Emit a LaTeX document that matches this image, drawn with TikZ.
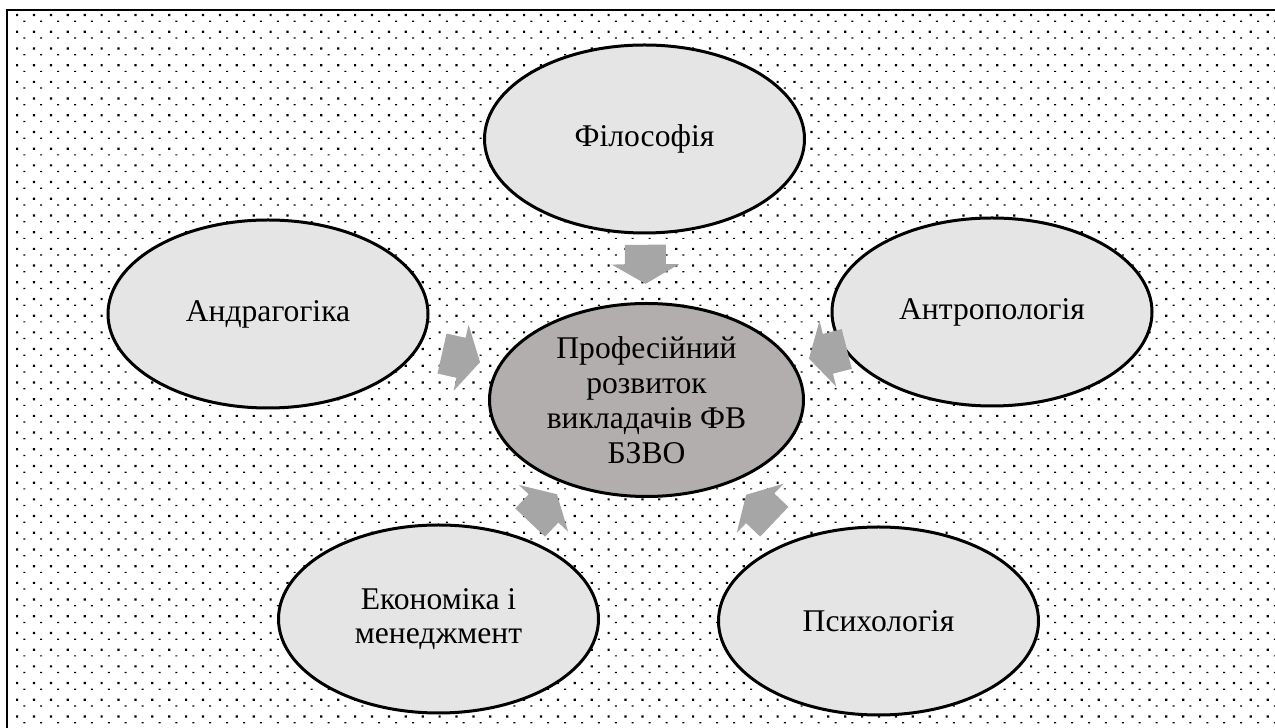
\documentclass[tikz,border=0pt]{standalone}
\usepackage{fontspec}
\setmainfont{Liberation Serif}
\usetikzlibrary{
    shapes.geometric,
    calc,
    positioning
}
\definecolor{ellgray}{RGB}{229,229,229}
\definecolor{coregray}{RGB}{178,174,174}
\definecolor{arrgray}{RGB}{166,166,166}
\tikzset{field/.style={ellipse, draw=black, line width=1.5pt, fill=ellgray, minimum width=160pt, minimum height=94pt, inner sep=0pt, align=center, font=\fontsize{15.8}{17.4}\selectfont}}
\tikzset{core/.style={field, fill=coregray, minimum width=157pt, minimum height=96.5pt}}
\tikzset{blockarr/.pic={\fill[arrgray] (-19.5,-20.5) -- (0,-20.5) -- (0,-34) -- (19.5,0) -- (0,34) -- (0,20.5) -- (-19.5,20.5) -- cycle;}}

\begin{document}
\begin{tikzpicture}[x=0.5pt, y=0.5pt]
                        \useasboundingbox (0, 0) rectangle (1275, 728);

                        \fill[black] \foreach \i in {0,...,74} {\foreach \j in {0,...,42} {
                            (16+16.9*\i, 714-16.7*\j) rectangle ++(2.2, -2.2)
                            (23.3+16.9*\i, 707.3-16.7*\j) rectangle ++(2, -1.2)}};

                        \draw[line width=0.75pt] (7, -10) -- (7, 718) -- (1290, 718);

                        \node[core] (prof) at (646.5, 328) {Професійний\\розвиток\\викладачів ФВ\\БЗВО};

                        \node[field] (phil) at (644.5, 589) {Філософія};
                        \node[field] (andr) at (268, 414) {Андрагогіка};
                        \node[field] (antr) at (992, 416) {Антропологія};
                        \node[field] (ekon) at (438.5, 109) {Економіка і\\менеджмент};
                        \node[field] (psyc) at (878.5, 107) {Психологія};

                        \path
                        (phil.center) -- pic[pos=0.48, sloped, allow upside down]{blockarr} (prof.center)
                        (andr.center) -- pic[pos=0.51, sloped, allow upside down]{blockarr} (prof.center)
                        (antr.center) -- pic[pos=0.475, sloped, allow upside down]{blockarr} (prof.center)
                        (ekon.center) -- pic[pos=0.505, sloped, allow upside down]{blockarr} (prof.center)
                        (psyc.center) -- pic[pos=0.51, sloped, allow upside down]{blockarr} (prof.center);
                    \end{tikzpicture}
\end{document}
